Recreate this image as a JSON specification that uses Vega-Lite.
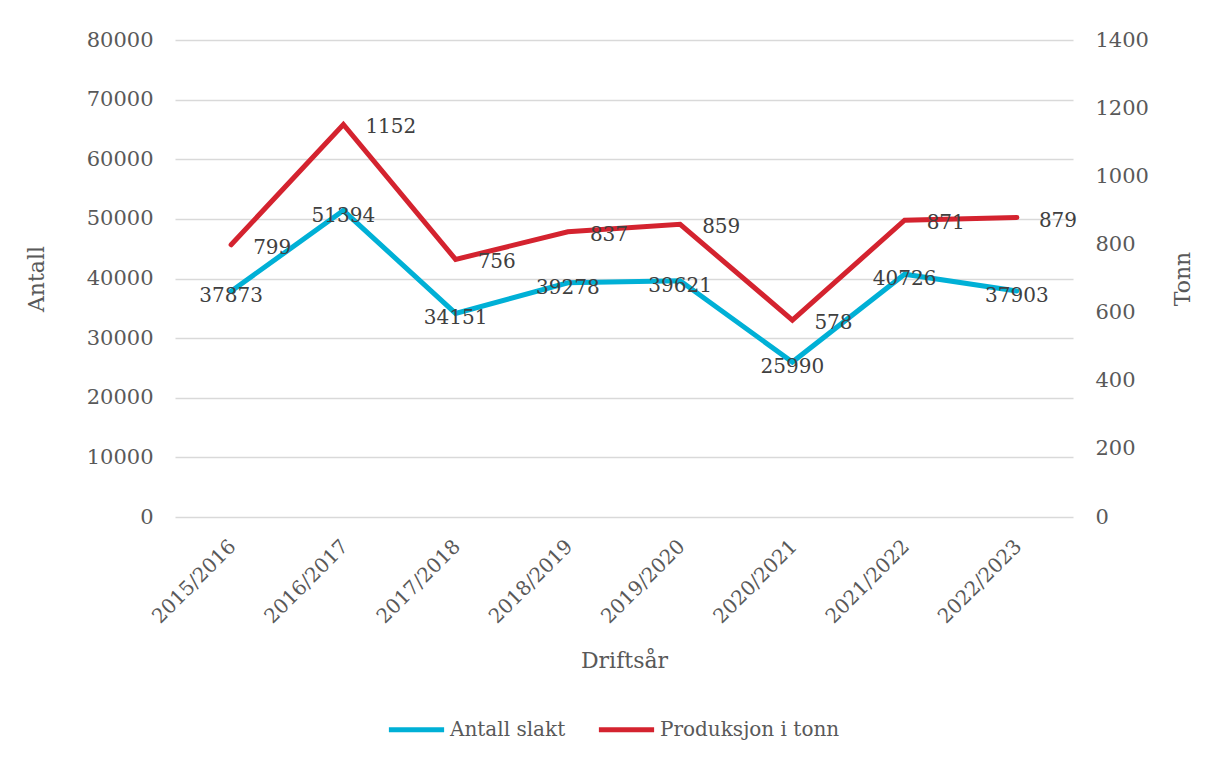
{
  "$schema": "https://vega.github.io/schema/vega-lite/v6.json",
  "autosize": "none",
  "width": 898,
  "height": 477,
  "padding": {"left": 175, "top": 40, "right": 135, "bottom": 246},
  "background": "white",
  "config": {
    "view": {"stroke": null},
    "font": "DejaVu Serif",
    "axis": {"labelFont": "DejaVu Serif", "titleFont": "DejaVu Serif", "labelColor": "#595959", "titleColor": "#595959", "labelFontSize": 20, "titleFontSize": 22, "titleFontWeight": "normal", "ticks": false, "domain": false},
    "legend": {"labelFont": "DejaVu Serif"}
  },
  "data": {"values": [
    {"aar": "2015/2016", "antall": 37873, "tonn": 799},
    {"aar": "2016/2017", "antall": 51394, "tonn": 1152},
    {"aar": "2017/2018", "antall": 34151, "tonn": 756},
    {"aar": "2018/2019", "antall": 39278, "tonn": 837},
    {"aar": "2019/2020", "antall": 39621, "tonn": 859},
    {"aar": "2020/2021", "antall": 25990, "tonn": 578},
    {"aar": "2021/2022", "antall": 40726, "tonn": 871},
    {"aar": "2022/2023", "antall": 37903, "tonn": 879}
  ]},
  "encoding": {
    "x": {"field": "aar", "type": "ordinal", "sort": null, "scale": {"type": "point", "padding": 0.5},
      "axis": {"title": "Driftsår", "labelAngle": -45, "labelPadding": 19, "labelOffset": -6, "titlePadding": 24, "grid": false}}
  },
  "layer": [
    {
      "layer": [
        {
          "mark": {"type": "line", "strokeWidth": 5, "strokeCap": "round", "strokeJoin": "miter"},
          "encoding": {
            "y": {"field": "antall", "type": "quantitative", "scale": {"domain": [0, 80000]},
              "axis": {"title": "Antall", "orient": "left", "values": [0,10000,20000,30000,40000,50000,60000,70000,80000], "grid": true, "gridColor": "#d9d9d9", "gridWidth": 1.5, "labelPadding": 22, "labelFontSize": 21, "titlePadding": 38, "format": "d"}},
            "color": {"datum": "Antall slakt", "scale": {"domain": ["Antall slakt", "Produksjon i tonn"], "range": ["#00B0D6", "#D4232F"]},
              "legend": {"title": null, "orient": "none", "direction": "horizontal", "legendX": 211, "legendY": 659, "symbolType": "stroke", "symbolSize": 3050, "symbolStrokeWidth": 5, "labelFontSize": 20, "labelColor": "#595959", "labelOffset": 3, "labelLimit": 400, "columnPadding": 22}}
          }
        },
        {
          "mark": {"type": "text", "fontSize": 20, "color": "#404040", "align": "center", "baseline": "middle", "dy": 5},
          "encoding": {
            "y": {"field": "antall", "type": "quantitative", "scale": {"domain": [0, 80000]}},
            "text": {"field": "antall", "type": "quantitative", "format": "d"}
          }
        }
      ]
    },
    {
      "layer": [
        {
          "mark": {"type": "line", "strokeWidth": 5, "strokeCap": "round", "strokeJoin": "miter"},
          "encoding": {
            "y": {"field": "tonn", "type": "quantitative", "scale": {"domain": [0, 1400]},
              "axis": {"title": "Tonn", "orient": "right", "values": [0,200,400,600,800,1000,1200,1400], "grid": false, "labelPadding": 22, "labelFontSize": 21, "titlePadding": 46, "titleAngle": 270, "format": "d"}},
            "color": {"datum": "Produksjon i tonn"}
          }
        },
        {
          "mark": {"type": "text", "fontSize": 20, "color": "#404040", "align": "left", "baseline": "middle", "dx": 22, "dy": 3},
          "encoding": {
            "y": {"field": "tonn", "type": "quantitative", "scale": {"domain": [0, 1400]}},
            "text": {"field": "tonn", "type": "quantitative", "format": "d"}
          }
        }
      ]
    }
  ],
  "resolve": {"scale": {"y": "independent"}}
}
